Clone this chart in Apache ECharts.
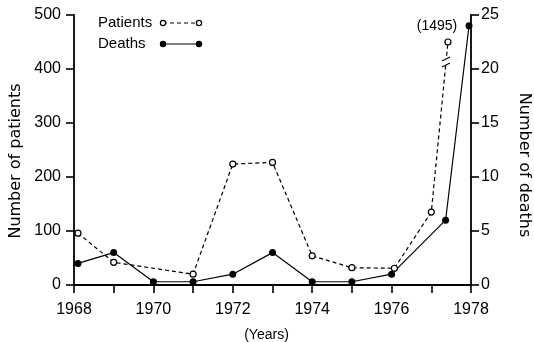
<!DOCTYPE html>
<html>
<head>
<meta charset="utf-8">
<script src="https://cdn.jsdelivr.net/npm/echarts@6/dist/echarts.min.js"></script>
<style>
html,body{margin:0;padding:0;background:#fff;}
#c{width:534px;height:342px;}
</style>
</head>
<body>
<div id="c"></div>
<script>
// ---- data ----
var patientYears = [1968.1, 1969, 1971, 1972, 1973, 1974, 1975, 1976.07, 1977, 1977.42];
var patients     = [96, 42, 20, 224, 227, 54, 32, 31, 135, 450]; // last point drawn broken (actual 1495)
var patientsBrokenLabel = '(1495)';
var deathYears = [1968.1, 1969, 1970, 1971, 1972, 1973, 1974, 1975, 1976, 1977.36, 1977.95];
var deaths     = [2, 3, 0.3, 0.3, 1, 3, 0.3, 0.3, 1, 6, 24];
var breakPoint = [1977.37, 413];
var xTicks = [1968, 1970, 1972, 1974, 1976, 1978];
var leftTicks = [0, 100, 200, 300, 400, 500];
var rightTicks = [0, 5, 10, 15, 20, 25];

var FONT = 'Liberation Sans';
var chart = echarts.init(document.getElementById('c'), null, {renderer: 'canvas'});

function zip(a, b) { return a.map(function (v, i) { return [v, b[i]]; }); }

var pData = zip(patientYears, patients).map(function (d, i) {
  if (i === patients.length - 1) {
    return {value: d, label: {show: true, formatter: patientsBrokenLabel, position: 'top',
      offset: [-11, 0], color: '#000', fontFamily: FONT, fontSize: 14}};
  }
  return d;
});

var axisCommon = {
  axisLine: {show: true, lineStyle: {color: '#000', width: 1.8}},
  axisTick: {show: true, inside: false, length: 8, lineStyle: {color: '#000', width: 1.6}},
  splitLine: {show: false}
};

chart.setOption({
  animation: false,
  backgroundColor: '#fff',
  grid: {left: 74, right: 63, top: 15, bottom: 57, containLabel: false, outerBoundsMode: 'none'},
  xAxis: Object.assign({}, axisCommon, {
    type: 'value', min: 1968, max: 1978, interval: 1,
    name: '(Years)', nameLocation: 'middle', nameGap: 43,
    nameTextStyle: {color: '#000', fontFamily: FONT, fontSize: 14, padding: [0, 12, 0, 0]},
    axisLabel: {color: '#000', fontFamily: FONT, fontSize: 16, margin: 17,
      formatter: function (v) { return xTicks.indexOf(v) >= 0 ? String(v) : ''; }}
  }),
  yAxis: [
    Object.assign({}, axisCommon, {
      type: 'value', min: 0, max: 500, interval: 100, position: 'left',
      name: 'Number of patients', nameLocation: 'middle', nameGap: 44, nameRotate: 90,
      nameTextStyle: {color: '#000', fontFamily: 'DejaVu Sans', fontSize: 16, padding: [0, 22, 0, 0]},
      axisLabel: {color: '#000', fontFamily: FONT, fontSize: 16, margin: 13,
        formatter: function (v) { return leftTicks.indexOf(v) >= 0 ? String(v) : ''; }}
    }),
    Object.assign({}, axisCommon, {
      type: 'value', min: 0, max: 25, interval: 5, position: 'right',
      name: 'Number of deaths', nameLocation: 'middle', nameGap: 45, nameRotate: -90,
      nameTextStyle: {color: '#000', fontFamily: 'DejaVu Sans', fontSize: 16, padding: [0, 0, 0, 30]},
      axisLabel: {color: '#000', fontFamily: FONT, fontSize: 16, margin: 10,
        formatter: function (v) { return rightTicks.indexOf(v) >= 0 ? String(v) : ''; }}
    })
  ],
  series: [
    {
      name: 'Patients', type: 'line', yAxisIndex: 0, data: pData,
      symbol: 'circle', symbolSize: 6, showAllSymbol: true,
      lineStyle: {color: '#000', width: 1.2, type: [4, 3]},
      itemStyle: {color: '#fff', borderColor: '#000', borderWidth: 1.2},
      z: 3
    },
    {
      name: 'Deaths', type: 'line', yAxisIndex: 1, data: zip(deathYears, deaths),
      symbol: 'circle', symbolSize: 7, showAllSymbol: true,
      lineStyle: {color: '#000', width: 1.2},
      itemStyle: {color: '#000', borderColor: '#000', borderWidth: 0},
      z: 2
    },
    {
      name: 'break', type: 'custom', yAxisIndex: 0, data: [breakPoint], silent: true, z: 4,
      renderItem: function (params, api) {
        var p = api.coord([api.value(0), api.value(1)]);
        var st = {stroke: '#000', lineWidth: 1.2};
        return {type: 'group', children: [
          {type: 'rect', shape: {x: p[0] - 4, y: p[1] - 4, width: 8, height: 7}, style: {fill: '#fff'}},
          {type: 'line', shape: {x1: p[0] - 4, y1: p[1] - 1, x2: p[0] + 4, y2: p[1] - 5}, style: st},
          {type: 'line', shape: {x1: p[0] - 4, y1: p[1] + 5, x2: p[0] + 4, y2: p[1] + 1}, style: st}
        ]};
      }
    }
  ],
  graphic: [
    {type: 'text', left: 98, top: 15, style: {text: 'Patients', fill: '#000', font: '15px "Liberation Sans"'}},
    {type: 'line', shape: {x1: 163, y1: 23, x2: 199, y2: 23}, style: {stroke: '#000', lineWidth: 1.2, lineDash: [4, 3]}},
    {type: 'circle', shape: {cx: 163, cy: 23, r: 2.6}, style: {fill: '#fff', stroke: '#000', lineWidth: 1.2}, z: 10},
    {type: 'circle', shape: {cx: 199, cy: 23, r: 2.6}, style: {fill: '#fff', stroke: '#000', lineWidth: 1.2}, z: 10},
    {type: 'text', left: 98, top: 36, style: {text: 'Deaths', fill: '#000', font: '15px "Liberation Sans"'}},
    {type: 'line', shape: {x1: 163, y1: 44, x2: 199, y2: 44}, style: {stroke: '#000', lineWidth: 1.2}},
    {type: 'circle', shape: {cx: 163, cy: 44, r: 3.2}, style: {fill: '#000'}, z: 10},
    {type: 'circle', shape: {cx: 199, cy: 44, r: 3.2}, style: {fill: '#000'}, z: 10}
  ]
});
</script>
</body>
</html>
